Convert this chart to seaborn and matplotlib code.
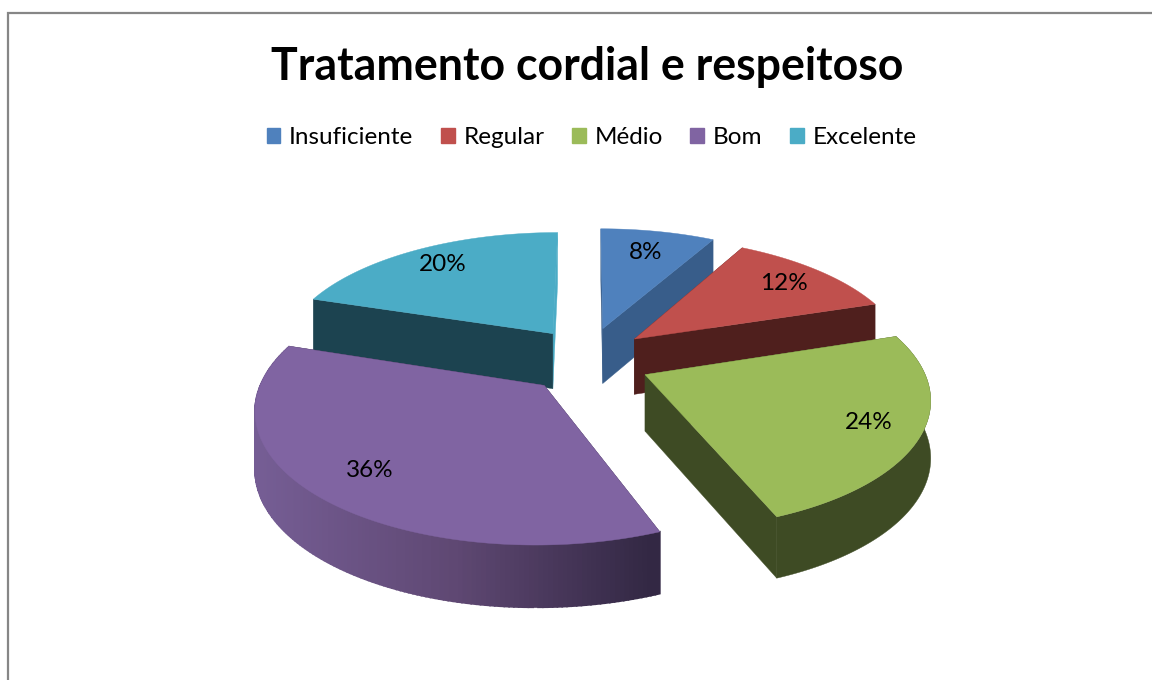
import numpy as np
import matplotlib
matplotlib.use("Agg")
import matplotlib.pyplot as plt
from matplotlib.patches import Patch, Rectangle
import seaborn as sns

# Chart data
categories = ['Insuficiente', 'Regular', 'Médio', 'Bom', 'Excelente']
percents = [8, 12, 24, 36, 20]
title = 'Tratamento cordial e respeitoso'

top_colors = ['#4F81BD', '#C0504D', '#9BBB59', '#8064A2', '#4BACC6']
wall_colors = ['#385D8A', '#4F1F1D', '#3E4B24', '#6F5890', '#1C4350']
label_radius = [0.76, 0.80, 0.82, 0.79, 0.80]

sns.set_theme(style='white')
plt.rcParams['font.family'] = ['Lato', 'DejaVu Sans']

# Projection of the tilted disc, in pixels
CX, CY = 588, 360
RX, RY = 275, 125
PERSP = 0.16
EXPLODE = 0.225
EXPLODE_Y = 1.2
HEIGHT = 56


def project(x, y, z=0.0):
    s = 1 / (1 + PERSP * y)
    return CX + RX * x * s, CY - RY * y * s + HEIGHT * z * np.sqrt(s)


fig = plt.figure(figsize=(11.52, 6.8), dpi=100)
ax = fig.add_axes([0, 0, 1, 1])
ax.set_xlim(0, 1152)
ax.set_ylim(680, 0)
ax.axis('off')

# Chart area frame, runs off the right and bottom of the image
ax.add_patch(Rectangle((8, 13), 1200, 720, fc='white', ec='#868686', lw=1.6))

edges = np.cumsum([0] + percents) / sum(percents) * 2 * np.pi
purple_ramp = sns.blend_palette(['#755D94', '#5F4873', '#332844'], 200)

slices = []
for i in range(len(percents)):
    t0, t1 = edges[i], edges[i + 1]
    mid = (t0 + t1) / 2
    ox = EXPLODE * np.sin(mid)
    oy = EXPLODE * EXPLODE_Y * np.cos(mid)
    slices.append((i, t0, t1, mid, ox, oy))

# Painter's order: back slices first
for i in [4, 0, 1, 2, 3]:
    _, t0, t1, mid, ox, oy = slices[i]
    ts = np.linspace(t0, t1, 160)
    rim_x = ox + np.sin(ts)
    rim_y = oy + np.cos(ts)

    # radial walls
    for t in (t1, t0):
        ex, ey = ox + np.sin(t), oy + np.cos(t)
        a, b = project(ox, oy), project(ex, ey)
        c, d = project(ex, ey, 1), project(ox, oy, 1)
        wc = wall_colors[i]
        if i == 3:
            wc = '#332844'
        if i == 4 and t == t1:
            wc = top_colors[i]  # thin light sliver on the teal slice
        ax.fill([a[0], b[0], c[0], d[0]], [a[1], b[1], c[1], d[1]],
                color=wc, lw=0.3)

    # outer wall, only the two front slices show it
    if i == 3:
        for j in range(len(ts) - 1):
            p0 = project(rim_x[j], rim_y[j])
            p1 = project(rim_x[j + 1], rim_y[j + 1])
            p2 = project(rim_x[j + 1], rim_y[j + 1], 1)
            p3 = project(rim_x[j], rim_y[j], 1)
            frac = np.clip((p0[0] - 260) / 390, 0, 1)
            ax.fill([p0[0], p1[0], p2[0], p3[0]], [p0[1], p1[1], p2[1], p3[1]],
                    color=purple_ramp[int(frac * 199)], lw=1.2)
    elif i == 2:
        tx, ty = project(rim_x, rim_y)
        bx, by = project(rim_x, rim_y, 1)
        ax.fill(np.r_[tx, bx[::-1]], np.r_[ty, by[::-1]], color=wall_colors[i], lw=0.3)

    # top face
    px, py = project(np.r_[ox, rim_x], np.r_[oy, rim_y])
    ax.fill(px, py, color=top_colors[i], lw=0.3)

# Percentage labels
for i, t0, t1, mid, ox, oy in slices:
    r = label_radius[i]
    lx, ly = project(ox + r * np.sin(mid), oy + r * np.cos(mid))
    ax.text(lx, ly, f'{percents[i]}%', ha='center', va='center', fontsize=17.5, color='black')

fig.text(587 / 1152, 1 - 67 / 680, title, ha='center', va='center',
         fontsize=32.1, fontweight='bold', color='black')

handles = [Patch(color=c, label=n) for c, n in zip(top_colors, categories)]
fig.legend(handles=handles, loc='center', bbox_to_anchor=(591.5 / 1152, 1 - 138 / 680),
           ncol=5, frameon=False, fontsize=17.5, handlelength=0.57, handleheight=0.57,
           handletextpad=0.35, columnspacing=1.14, borderpad=0, labelcolor='black')

fig.savefig('out.png', dpi=100)
